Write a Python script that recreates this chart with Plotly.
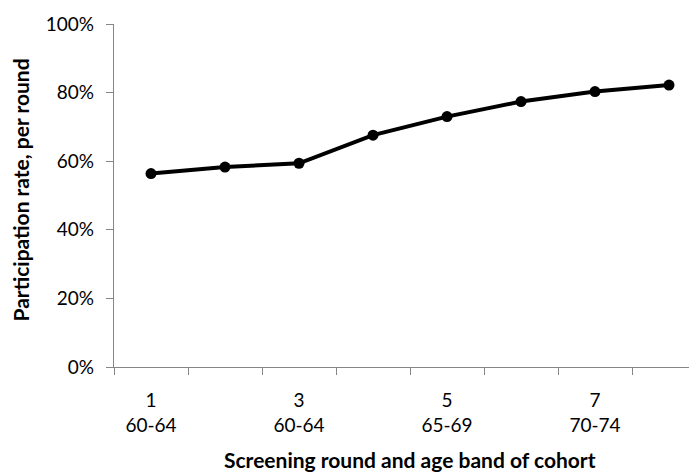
import plotly.graph_objects as go

rounds = [1, 2, 3, 4, 5, 6, 7, 8]
participation = [0.564, 0.583, 0.594, 0.676, 0.730, 0.774, 0.803, 0.822]
label_rounds = [1, 3, 5, 7]
label_text = ["1<br>60-64", "3<br>60-64", "5<br>65-69", "7<br>70-74"]
y_ticks = [0, 0.2, 0.4, 0.6, 0.8, 1.0]
y_ticktext = ["0%", "20%", "40%", "60%", "80%", "100%"]

axis_grey = "#868686"
font_family = "Lato, 'Open Sans', sans-serif"

fig = go.Figure()
fig.add_trace(go.Scatter(
    x=rounds, y=participation, mode="lines+markers",
    line=dict(color="black", width=4),
    marker=dict(color="black", size=11),
    showlegend=False,
))

# page body has an 8px margin, so the figure is 8px smaller than the window
fig.update_layout(
    width=689, height=465,
    margin=dict(l=106, r=0, t=16, b=106, autoexpand=False),
    plot_bgcolor="white", paper_bgcolor="white",
    font=dict(family=font_family, size=19, color="black"),
)

fig.update_xaxes(
    range=[0.5, 8.378], automargin=False,
    tickmode="array", tickvals=label_rounds, ticktext=label_text,
    ticks="outside", ticklen=16, tickcolor="rgba(0,0,0,0)",
    showline=True, linecolor=axis_grey, linewidth=1.3,
    showgrid=False, zeroline=False,
    minor=dict(tick0=0.5, dtick=1, ticks="outside", ticklen=7,
               tickcolor=axis_grey, tickwidth=1.3, showgrid=False),
)

fig.update_yaxes(
    range=[0, 1], automargin=False,
    tickmode="array", tickvals=y_ticks, ticktext=y_ticktext,
    ticks="outside", ticklen=7, tickcolor=axis_grey, tickwidth=1.3,
    ticklabelstandoff=8,
    showline=True, linecolor=axis_grey, linewidth=1.3,
    showgrid=False, zeroline=False,
)

fig.add_annotation(
    text="<b>Participation rate, per round</b>",
    xref="paper", yref="paper", x=0, xshift=-94, y=0.5, yshift=5,
    xanchor="center", yanchor="middle", textangle=-90, showarrow=False,
    font=dict(size=21),
)

fig.add_annotation(
    text="<b>Screening round and age band of cohort</b>",
    xref="paper", yref="paper", x=0.508, y=0, yshift=-92,
    xanchor="center", yanchor="middle", showarrow=False,
    font=dict(size=21),
)

fig.write_html("out.html")
